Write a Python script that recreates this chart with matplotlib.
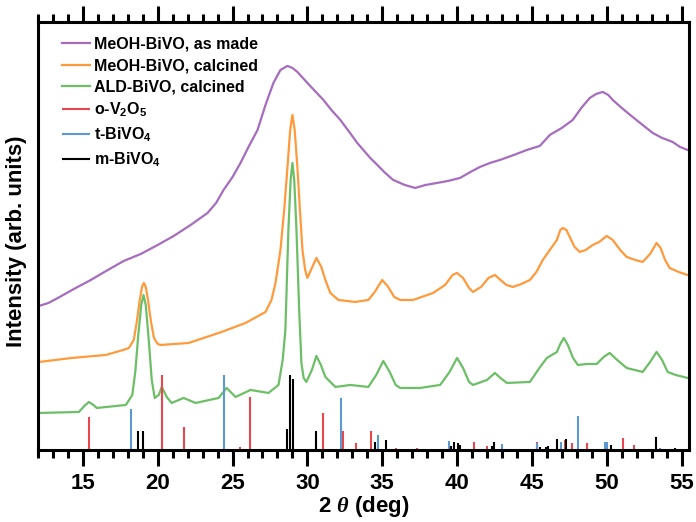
import matplotlib.pyplot as plt
import numpy as np

plt.rcParams['font.family'] = ['Liberation Sans', 'DejaVu Sans']
plt.rcParams['font.weight'] = 'bold'
plt.rcParams['mathtext.fontset'] = 'custom'
plt.rcParams['mathtext.rm'] = 'Liberation Sans:bold'
plt.rcParams['mathtext.bf'] = 'Liberation Sans:bold'
plt.rcParams['mathtext.it'] = 'Liberation Serif:italic'

# MeOH-BiVO, as made
asmade_x = [12.07, 12.7, 13.33, 14.4, 15.53, 16.67, 17.73, 18.87, 20.0, 21.07, 22.2, 23.33, 23.9,
            24.4, 25.0, 25.53, 26.1, 26.67, 27.2, 27.73, 28.2, 28.67, 29.0, 29.33, 30.0, 30.5,
            31.07, 31.6, 32.2, 32.8, 33.33, 34.2, 34.67, 35.2, 35.73, 36.5, 37.2, 37.9, 38.67,
            39.4, 40.2, 40.9, 41.53, 42.2, 42.87, 43.8, 44.67, 45.1, 45.53, 46.2, 47.0, 47.73,
            48.3, 48.87, 49.3, 49.73, 50.1, 50.4, 51.0, 51.73, 52.4, 53.07, 53.7, 54.4, 54.9, 55.4]
asmade_y = [144, 147, 152, 161, 170, 180, 189, 196, 205, 214, 225, 237, 247,
            260, 273, 287, 304, 320, 345, 367, 380, 384, 382, 378, 367, 359,
            350, 340, 330, 318, 307, 292, 285, 277, 270, 265, 262, 265, 267,
            269, 272, 278, 283, 287, 290, 295, 300, 302, 304, 315, 322, 330,
            342, 352, 356, 358, 355, 350, 342, 333, 325, 317, 312, 308, 303, 300]

# MeOH-BiVO, calcined
meoh_x = [12.07, 14.27, 16.53, 17.7, 18.07, 18.4, 18.6, 18.8, 18.95, 19.07, 19.2, 19.35, 19.55,
          19.75, 20.0, 20.2, 22.07, 24.27, 25.87, 27.2, 27.6, 27.87, 28.2, 28.45, 28.67, 28.85,
          29.0, 29.15, 29.33, 29.5, 29.67, 29.85, 30.0, 30.3, 30.6, 30.93, 31.2, 31.53, 32.07,
          33.2, 34.07, 34.5, 35.0, 35.4, 35.8, 36.2, 37.07, 38.4, 39.2, 39.7, 40.0, 40.4,
          40.8, 41.07, 41.6, 42.1, 42.53, 42.9, 43.3, 43.73, 44.3, 44.87, 45.3, 45.73, 46.2,
          46.67, 46.9, 47.07, 47.3, 47.53, 47.85, 48.2, 48.6, 49.07, 49.5, 50.0, 50.4, 50.9,
          51.33, 51.9, 52.4, 52.9, 53.33, 53.6, 53.9, 54.2, 54.8, 55.4]
meoh_y = [88, 92, 95, 100, 102, 110, 128, 150, 163, 167, 163, 150, 128,
          112, 106, 105, 107, 118, 127, 138, 150, 167, 200, 240, 283, 320,
          335, 320, 283, 240, 200, 180, 172, 182, 192, 183, 170, 157, 150,
          148, 150, 158, 170, 163, 153, 150, 150, 157, 165, 175, 177, 172,
          162, 158, 163, 172, 175, 170, 165, 163, 166, 170, 178, 190, 200,
          210, 220, 222, 220, 213, 203, 198, 200, 205, 208, 214, 210, 200,
          193, 190, 188, 196, 207, 202, 190, 182, 178, 175]

# ALD-BiVO, calcined
ald_x = [12.07, 14.73, 15.1, 15.4, 15.7, 15.93, 17.87, 18.3, 18.5, 18.7, 18.9, 19.05, 19.2,
         19.4, 19.6, 19.8, 20.07, 20.27, 20.6, 20.93, 21.73, 22.53, 24.07, 24.6, 25.2, 26.2,
         27.4, 28.07, 28.35, 28.53, 28.73, 28.88, 29.0, 29.12, 29.27, 29.45, 29.6, 29.75, 29.93,
         30.3, 30.6, 30.9, 31.2, 31.87, 32.87, 34.07, 34.6, 35.07, 35.5, 35.9, 36.2, 37.53,
         38.87, 39.5, 40.0, 40.4, 40.8, 41.07, 42.0, 42.53, 42.9, 43.33, 44.87, 45.5, 46.0,
         46.67, 46.9, 47.13, 47.4, 47.75, 48.07, 48.7, 49.33, 49.8, 50.2, 50.7, 51.33, 52.4,
         52.9, 53.33, 53.7, 54.07, 54.6, 55.4]
ald_y = [37, 38, 44, 48, 45, 42, 45, 55, 78, 115, 145, 155, 145,
         110, 70, 52, 55, 63, 53, 47, 52, 47, 52, 62, 53, 60,
         57, 65, 90, 120, 220, 270, 287, 270, 220, 140, 87, 72, 68,
         80, 94, 85, 73, 63, 65, 63, 75, 89, 78, 65, 62, 62,
         65, 78, 92, 82, 68, 65, 70, 77, 72, 67, 68, 82, 92,
         98, 106, 112, 105, 92, 85, 86, 86, 93, 97, 90, 82, 78,
         88, 98, 90, 78, 75, 72]

# reference stick patterns
v2o5_pos = [15.42, 20.31, 21.75, 25.53, 26.15, 31.02, 32.35, 33.27, 34.27, 35.93, 37.31, 41.15,
            41.98, 45.35, 47.2, 47.69, 48.71, 49.35, 51.09, 51.82]
v2o5_int = [33, 75, 23, 3, 53, 37, 19, 7, 19, 2, 2, 8,
            4, 8, 10, 7, 7, 1, 12, 5]
tbivo4_pos = [18.2, 24.42, 30.55, 32.27, 34.71, 39.47, 43.02, 45.31, 46.93, 48.09, 49.87, 50.02, 53.53]
tbivo4_int = [41, 75, 14, 52, 15, 9, 6, 7, 8, 34, 8, 8, 2]
mbivo4_pos = [18.71, 19.04, 28.64, 28.87, 29.02, 30.6, 34.49, 35.27, 39.58, 39.82, 40.04, 40.2,
              42.31, 42.47, 45.53, 45.93, 46.09, 46.71, 47.31, 50.31, 53.27, 54.58]
mbivo4_int = [19, 19, 21, 75, 71, 19, 8, 10, 4, 8, 7, 5,
              4, 8, 3, 3, 4, 11, 11, 5, 13, 2]

c_purple = '#a66cbd'
c_orange = '#ff9a3c'
c_green = '#6cbf66'
c_red = '#e8474f'
c_blue = '#5b99d0'
c_black = '#000000'

fig, ax = plt.subplots(figsize=(6.96, 5.22), dpi=100)
fig.subplots_adjust(left=0.0546, right=0.99, bottom=0.138, top=0.958)

ax.plot(asmade_x, asmade_y, color=c_purple, lw=1.6, label='MeOH-BiVO, as made')
ax.plot(meoh_x, meoh_y, color=c_orange, lw=1.6, label='MeOH-BiVO, calcined')
ax.plot(ald_x, ald_y, color=c_green, lw=1.6, label='ALD-BiVO, calcined')
ax.vlines(v2o5_pos, 0, v2o5_int, color=c_red, lw=1.5, label=r'o-V$_\mathbf{2}$O$_\mathbf{5}$')
ax.vlines(tbivo4_pos, 0, tbivo4_int, color=c_blue, lw=1.5, label=r't-BiVO$_\mathbf{4}$')
ax.vlines(mbivo4_pos, 0, mbivo4_int, color=c_black, lw=1.5, label=r'm-BiVO$_\mathbf{4}$')

ax.set_xlim(12, 55.5)
ax.set_ylim(0, 428)
ax.set_xticks(np.arange(15, 56, 5))
ax.set_xticks(np.arange(12, 56, 1), minor=True)
ax.set_yticks([])
ax.tick_params(axis='x', which='both', direction='out', top=True, labeltop=False, width=2.2)
ax.tick_params(axis='x', which='major', length=11.5, labelsize=16, pad=5)
ax.tick_params(axis='x', which='minor', length=5.5)
for lab in ax.get_xticklabels():
    lab.set_fontweight('bold')
for sp in ax.spines.values():
    sp.set_linewidth(2.2)

ax.set_xlabel(r'2 $\mathit{\theta}$ (deg)', fontsize=16, fontweight='bold')
ax.xaxis.set_label_coords(0.5, -0.102)
ax.set_ylabel('Intensity (arb. units)', fontsize=16, fontweight='bold')
ax.yaxis.set_label_coords(-0.017, 0.488)

ax.legend(loc='upper left', bbox_to_anchor=(0.037, 0.965), frameon=False,
          handlelength=1.75, handletextpad=0.25, labelspacing=0.4,
          borderaxespad=0, borderpad=0, prop={'weight': 'bold', 'size': 11.5})

plt.savefig('out.png', dpi=100)
